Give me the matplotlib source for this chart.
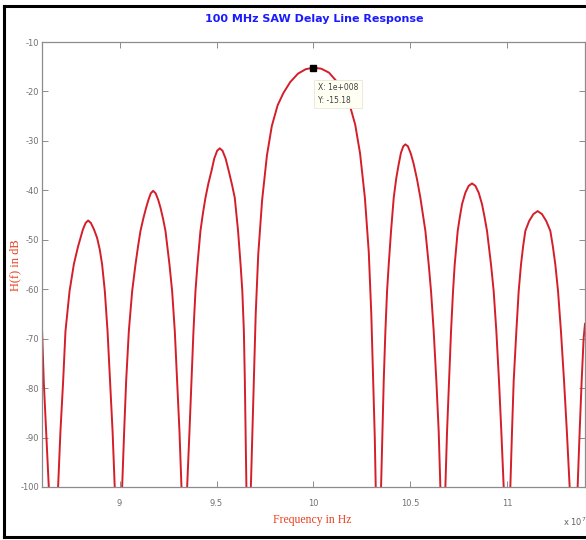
import matplotlib
matplotlib.use("Agg")
import matplotlib.pyplot as plt
from matplotlib.lines import Line2D

plt.rcParams["axes.unicode_minus"] = False

# ---------------- data (frequency in units of 1e7 Hz, level in dB) ----------------
f_edge_left = [8.600, 8.609, 8.6215, 8.635]
db_edge_left = [-68.0, -78.6, -88.8, -100.0]

f_lobe_a = [8.683, 8.695, 8.709, 8.721, 8.742, 8.764, 8.785, 8.799, 8.811, 8.825, 8.838,
            8.852, 8.868, 8.884, 8.898, 8.910, 8.924, 8.938, 8.951, 8.964, 8.975]
db_lobe_a = [-100.0, -88.8, -78.6, -68.5, -60.4, -55.0, -51.5, -49.6, -47.9, -46.6, -46.1,
             -46.6, -47.9, -49.6, -52.0, -55.0, -60.4, -68.5, -78.6, -88.8, -100.0]

f_lobe_b = [9.0133, 9.0236, 9.0339, 9.0477, 9.0649, 9.0820, 9.095, 9.1078, 9.1230, 9.1370,
            9.149, 9.161, 9.1731, 9.186, 9.199, 9.2109, 9.224, 9.2367, 9.2573, 9.2711,
            9.2848, 9.2969, 9.3089, 9.3192]
db_lobe_b = [-100.0, -88.8, -78.6, -68.5, -60.4, -55.0, -51.4, -48.2, -45.6, -43.5,
             -41.9, -40.6, -40.1, -40.6, -41.9, -43.5, -45.7, -48.2, -55.0, -60.4,
             -68.5, -78.6, -88.8, -100.0]

f_lobe_c = [9.3484, 9.3604, 9.3707, 9.3810, 9.3913, 9.4016, 9.4171, 9.4300, 9.4429, 9.4580,
            9.4738, 9.488, 9.503, 9.5168, 9.531, 9.547, 9.5631, 9.580, 9.594, 9.611, 9.624,
            9.633, 9.641, 9.646, 9.650, 9.654]
db_lobe_c = [-100.0, -88.8, -78.6, -68.5, -60.4, -55.0, -48.2, -44.6, -41.5, -38.6,
             -36.1, -33.6, -32.0, -31.5, -32.0, -33.6, -36.1, -38.9, -41.5, -48.2, -55.0,
             -60.4, -68.5, -78.6, -88.8, -100.0]

f_main = [9.677, 9.684, 9.691, 9.702, 9.715, 9.735, 9.760, 9.785, 9.815, 9.845, 9.880,
          9.920, 9.960, 10.000, 10.040, 10.080, 10.118, 10.153, 10.185, 10.215, 10.240,
          10.265, 10.285, 10.298, 10.309, 10.316, 10.321]
db_main = [-100.0, -90.0, -80.0, -65.0, -53.0, -42.0, -32.9, -27.0, -22.8, -20.3, -18.1,
           -16.4, -15.5, -15.18, -15.4, -16.2, -17.9, -20.0, -22.5, -26.7, -32.5,
           -41.5, -52.5, -65.0, -80.0, -90.0, -100.0]

f_lobe_d = [10.3484, 10.3553, 10.3621, 10.3707, 10.3793, 10.3879, 10.3999, 10.4137, 10.4265,
            10.4394, 10.451, 10.463, 10.4738, 10.487, 10.502, 10.5168, 10.534, 10.5511,
            10.5769, 10.5941, 10.6061, 10.6198, 10.6336, 10.6456, 10.6542]
db_lobe_d = [-100.0, -88.8, -78.6, -68.5, -60.4, -55.0, -48.2, -41.5, -37.6,
             -34.7, -32.4, -31.1, -30.7, -31.1, -32.6, -34.7, -37.8, -41.5,
             -48.2, -55.0, -60.4, -68.5, -78.6, -88.8, -100.0]

f_lobe_e = [10.680, 10.6886, 10.6989, 10.7092, 10.7195, 10.7281, 10.7436, 10.755, 10.7659,
            10.783, 10.800, 10.8174, 10.835, 10.852, 10.8690, 10.882, 10.8947, 10.9154,
            10.9291, 10.9429, 10.9566, 10.9686, 10.9807]
db_lobe_e = [-100.0, -88.8, -78.6, -68.5, -60.4, -55.0, -48.2, -45.3, -42.8,
             -40.5, -39.1, -38.6, -39.1, -40.5, -42.8, -45.4, -48.2, -55.0,
             -60.4, -68.5, -78.6, -88.8, -100.0]

f_lobe_f = [11.0150, 11.0236, 11.0322, 11.0460, 11.0580, 11.0700, 11.0810, 11.0924, 11.112,
            11.134, 11.1559, 11.178, 11.200, 11.2212, 11.2345, 11.2470, 11.2610, 11.2760,
            11.2920, 11.3065, 11.3209]
db_lobe_f = [-100.0, -88.8, -78.6, -68.5, -60.4, -55.0, -51.3, -48.2, -46.2,
             -44.8, -44.2, -44.8, -46.2, -48.2, -51.4, -55.0, -60.4, -68.5,
             -78.6, -88.8, -100.0]

f_edge_right = [11.362, 11.3724, 11.3827, 11.393, 11.400]
db_edge_right = [-100.0, -88.8, -78.6, -69.9, -67.0]

null_freqs = [8.659, 8.995, 9.333, 9.664, 10.335, 10.667, 10.998, 11.341]
null_db = -130.0  # nulls fall far below the plotted range

peak_f = 10.0
peak_db = -15.18

x_ticks = [9, 9.5, 10, 10.5, 11]
x_ticklabels = ["9", "9.5", "10", "10.5", "11"]
y_ticks = [-10, -20, -30, -40, -50, -60, -70, -80, -90, -100]

# ---------------- assemble curve ----------------
segments_f = [f_edge_left, f_lobe_a, f_lobe_b, f_lobe_c, f_main, f_lobe_d, f_lobe_e, f_lobe_f, f_edge_right]
segments_db = [db_edge_left, db_lobe_a, db_lobe_b, db_lobe_c, db_main, db_lobe_d, db_lobe_e, db_lobe_f, db_edge_right]
freq, level = [], []
for i, (sf, sd) in enumerate(zip(segments_f, segments_db)):
    freq += sf
    level += sd
    if i < len(null_freqs):
        freq.append(null_freqs[i])
        level.append(null_db)

# ---------------- figure ----------------
W, H = 586, 540
fig = plt.figure(figsize=(W / 100, H / 100), dpi=100)
fig.patch.set_facecolor("white")

ax = fig.add_axes([42 / W, 1 - 487 / H, 543 / W, 445 / H])
ax.plot(freq, level, color="#d41e2a", lw=1.4, solid_joinstyle="round")
ax.set_xlim(8.6, 11.4)
ax.set_ylim(-100, -10)
ax.set_xticks(x_ticks)
ax.set_xticklabels(x_ticklabels)
ax.set_yticks(y_ticks)

spine_col = "#8c8c8c"
for s in ax.spines.values():
    s.set_color(spine_col)
    s.set_linewidth(0.9)
ax.tick_params(direction="in", length=4, width=0.7, color=spine_col,
               labelsize=6, labelcolor="#707070", top=True, right=True)
ax.tick_params(axis="x", pad=9)
ax.tick_params(axis="y", pad=2)
for lab in ax.get_xticklabels() + ax.get_yticklabels():
    lab.set_family(["Liberation Sans Narrow", "DejaVu Sans"])

# data tip
ax.plot([peak_f], [peak_db], marker="s", ms=5, color="black", mec="black", zorder=5)
ax.text(peak_f + 0.022, peak_db - 3.2, "X: 1e+008\nY: -15.18", fontsize=5.5,
        color="#404040", va="top", ha="left", linespacing=1.5,
        family=["Liberation Sans Narrow", "DejaVu Sans"],
        bbox=dict(boxstyle="square,pad=0.45", fc="#fffff4", ec="#e6e6d8", lw=0.6), zorder=6)

# titles and labels
fig.text(314 / W, 1 - 19 / H, "100 MHz SAW Delay Line Response", ha="center", va="center",
         fontsize=8, fontweight="bold", color="#1a1aff",
         family=["Liberation Sans Narrow", "DejaVu Sans"])
fig.text(312 / W, 1 - 520 / H, "Frequency in Hz", ha="center", va="center",
         fontsize=8.5, color="#e8401e", family=["Liberation Serif", "DejaVu Serif"])
fig.text(15 / W, 1 - 265 / H, "H(f) in dB", ha="center", va="center", rotation=90,
         fontsize=9, color="#e8401e", family=["Liberation Serif", "DejaVu Serif"])
fig.text(563 / W, 1 - 522 / H, r"x 10$^7$", ha="left", va="center", fontsize=6,
         color="#606060", family=["Liberation Sans Narrow", "DejaVu Sans"])

# black frame of the screenshot
frame_kw = dict(color="black", lw=2.2, transform=fig.transFigure)
fig.add_artist(Line2D([4 / W, 4 / W], [1 - 6 / H, 1 - 537 / H], **frame_kw))
fig.add_artist(Line2D([4 / W, 1.0], [1 - 6 / H, 1 - 6 / H], **frame_kw))
fig.add_artist(Line2D([4 / W, 1.0], [1 - 537 / H, 1 - 537 / H], **frame_kw))

fig.savefig("out.png", dpi=100)
